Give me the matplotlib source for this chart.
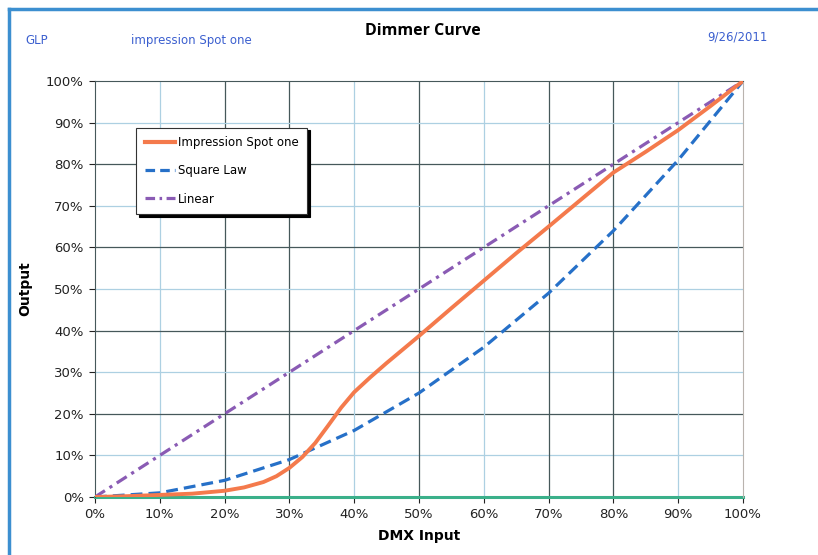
"""Dimmer curve: Impression Spot one vs square law and linear."""
import matplotlib.pyplot as plt
from matplotlib.lines import Line2D
from matplotlib.ticker import FuncFormatter

# DMX input (%)
dmx_in = [0, 5, 10, 15, 20, 23, 26, 28, 30, 32, 34, 36, 38, 40, 42.5, 45,
          50, 55, 60, 65, 70, 75, 80, 85, 90, 95, 100]
spot_out = [0, 0.2, 0.5, 0.8, 1.5, 2.3, 3.6, 5, 7, 9.6, 13, 17.2, 21.5, 25.2,
            28.8, 32.2, 38.7, 45.4, 52, 58.6, 65, 71.5, 78, 83, 88.2, 94, 100]

law_in = [0, 10, 20, 30, 40, 50, 60, 70, 80, 90, 100]
square_law = [0, 1, 4, 9, 16, 25, 36, 49, 64, 81, 100]
linear = [0, 10, 20, 30, 40, 50, 60, 70, 80, 90, 100]
zero_line = [0] * len(law_in)

ticks = [0, 10, 20, 30, 40, 50, 60, 70, 80, 90, 100]

DARK = "#46585a"
LIGHT = "#add0e2"
# which grid lines are drawn dark in the original
x_dark = [20, 30, 50, 70, 80]
y_dark = [20, 40, 60, 80]

fig = plt.figure(figsize=(8.18, 5.55), dpi=100)
ax = fig.add_axes([0.1161, 0.1045, 0.7922, 0.7495])

for t in ticks[1:-1]:
    ax.axvline(t, color=DARK if t in x_dark else LIGHT, lw=0.9, zorder=0)
    ax.axhline(t, color=DARK if t in y_dark else LIGHT, lw=0.9, zorder=0)

ax.plot(law_in, zero_line, color="#3bb08a", lw=2.2, zorder=2, clip_on=False)
ax.plot(law_in, linear, color="#8a5bb4", lw=2.3, dashes=(3.7, 1.7, 1.0, 1.7),
        dash_capstyle="butt", zorder=3)
ax.plot(law_in, square_law, color="#2670c8", lw=2.3, dashes=(3.7, 1.9),
        dash_capstyle="butt", zorder=3)
ax.plot(dmx_in, spot_out, color="#f47a4c", lw=2.8, zorder=4,
        solid_joinstyle="round")

ax.set_xlim(0, 100)
ax.set_ylim(0, 100)
ax.set_xticks(ticks)
ax.set_yticks(ticks)
pct = FuncFormatter(lambda v, _: f"{v:.0f}%")
ax.xaxis.set_major_formatter(pct)
ax.yaxis.set_major_formatter(pct)
ax.tick_params(labelsize=9.5, colors="#222222", length=4, width=0.8,
               direction="out", pad=4)

ax.spines["left"].set_color(DARK)
ax.spines["top"].set_color(DARK)
ax.spines["right"].set_color("#b9b3ae")
ax.spines["bottom"].set_visible(False)

ax.set_xlabel("DMX Input", fontsize=10, fontweight="bold", labelpad=6)
ax.set_ylabel("Output", fontsize=10, fontweight="bold", labelpad=10)

handles = [
    Line2D([], [], color="#f47a4c", lw=3),
    Line2D([], [], color="#2670c8", lw=2.3, dashes=(3, 1.6)),
    Line2D([], [], color="#8a5bb4", lw=2.3, dashes=(3, 1.4, 0.8, 1.4)),
]
leg = ax.legend(handles, ["Impression Spot one", "Square Law", "Linear"],
                loc="upper left", bbox_to_anchor=(0.064, 0.888), fontsize=8.5,
                frameon=True, fancybox=False, edgecolor="#333333",
                labelspacing=1.3, handlelength=2.6, handletextpad=0.25,
                borderpad=0.7, borderaxespad=0,
                shadow={"color": "black", "alpha": 1, "ox": 2, "oy": -2})
leg.get_frame().set_linewidth(0.8)

fig.text(0.517, 0.944, "Dimmer Curve", ha="center", va="center",
         fontsize=11.5, fontweight="bold", family="Open Sans")
fig.text(0.031, 0.927, "GLP", fontsize=8.5, color="#3b5fcf", va="center")
fig.text(0.160, 0.927, "impression Spot one", fontsize=8.5, color="#3b5fcf",
         va="center")
fig.text(0.864, 0.933, "9/26/2011", fontsize=8.5, color="#3b5fcf", va="center")

# blue page border (left and top)
fig.add_artist(Line2D([0.011, 0.011], [0, 0.984], transform=fig.transFigure,
                      color="#3c8fd0", lw=2.5))
fig.add_artist(Line2D([0.011, 1], [0.984, 0.984], transform=fig.transFigure,
                      color="#3c8fd0", lw=2.5))

fig.savefig("out.png", dpi=100)
